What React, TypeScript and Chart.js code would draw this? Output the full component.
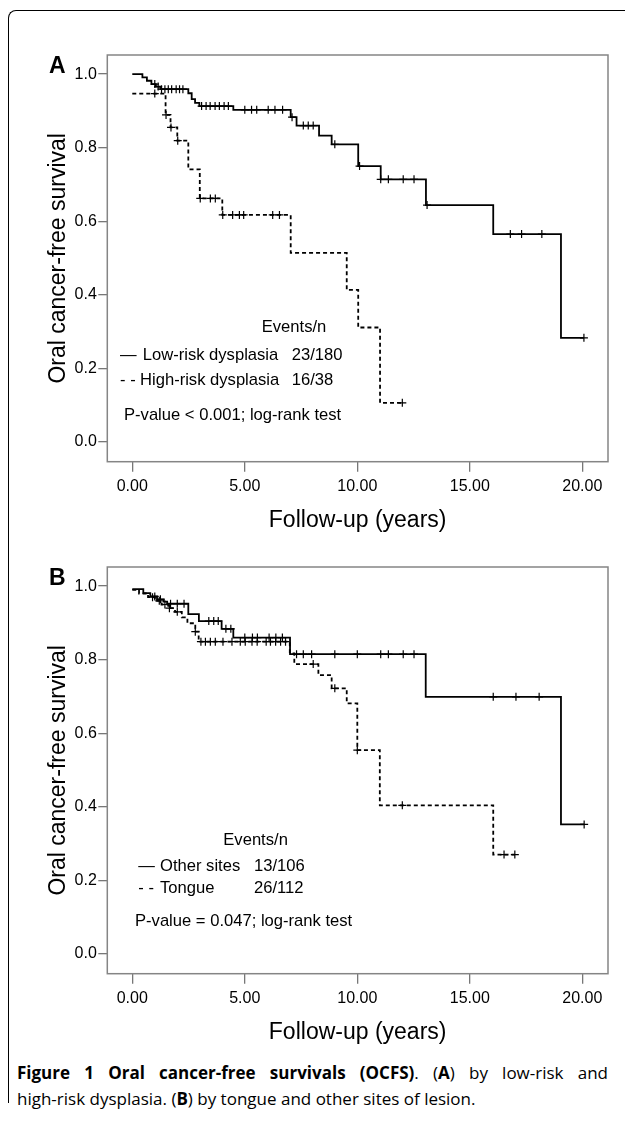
import React, { useEffect, useRef } from 'react';
import { Chart, registerables } from 'chart.js';

Chart.register(...registerables);

const FONT = 'Liberation Sans, Arial, Helvetica, sans-serif';

const X_TICKS = [0, 5, 10, 15, 20];
const Y_TICKS = [0, 0.2, 0.4, 0.6, 0.8, 1.0];
const X_TITLE = 'Follow-up (years)';
const Y_TITLE = 'Oral cancer-free survival';

// ---------- Panel A ----------
const lowRiskTimes = [0, 0.45, 0.65, 0.85, 1.05, 1.25, 2.49, 2.64, 2.79, 2.98, 4.49, 7.04, 7.3, 8.3, 8.86, 10.04, 11.04, 13.05, 16.04, 19.05, 20.07];
const lowRiskSurv = [1.0, 0.991, 0.982, 0.973, 0.966, 0.959, 0.948, 0.932, 0.922, 0.913, 0.903, 0.883, 0.86, 0.833, 0.809, 0.75, 0.714, 0.644, 0.565, 0.283, 0.283];
const lowRiskCensor = [1.0, 1.15, 1.3, 1.45, 1.6, 1.75, 1.95, 2.1, 2.25, 3.08, 3.28, 3.46, 3.68, 3.87, 4.08, 4.27, 5.0, 5.3, 5.53, 6.04, 6.34, 6.68, 7.1, 7.6, 7.82, 8.04, 9.0, 10.1, 11.04, 11.38, 12.04, 12.52, 13.1, 16.8, 17.3, 18.2, 20.07];

const highRiskTimes = [0, 1.48, 1.7, 2.0, 2.49, 3.0, 4.0, 7.04, 9.53, 10.04, 11.01, 12.0];
const highRiskSurv = [0.947, 0.889, 0.855, 0.819, 0.741, 0.662, 0.617, 0.514, 0.413, 0.311, 0.106, 0.106];
const highRiskCensor = [1.0, 1.5, 1.72, 2.02, 3.02, 3.47, 3.69, 4.02, 4.46, 4.76, 4.95, 6.24, 6.54, 12.0];

// ---------- Panel B ----------
const otherTimes = [0, 0.49, 0.8, 1.1, 1.4, 1.55, 2.49, 2.96, 3.97, 4.49, 7.01, 13.04, 19.05, 20.08];
const otherSurv = [0.992, 0.981, 0.972, 0.964, 0.958, 0.952, 0.924, 0.905, 0.884, 0.86, 0.815, 0.699, 0.352, 0.352];
const otherCensor = [1.0, 1.25, 1.7, 2.0, 2.3, 3.4, 3.62, 3.82, 4.16, 4.38, 5.0, 5.34, 5.56, 6.08, 6.38, 6.67, 7.3, 7.6, 7.97, 9.0, 10.0, 11.04, 11.38, 12.04, 12.52, 16.04, 17.05, 18.08, 20.08];

const tongueTimes = [0, 0.3, 0.7, 1.0, 1.3, 1.6, 1.9, 2.2, 2.45, 2.8, 2.95, 7.0, 7.2, 8.27, 8.86, 9.53, 10.0, 11.0, 16.04, 17.0];
const tongueSurv = [0.99, 0.98, 0.97, 0.96, 0.95, 0.94, 0.93, 0.915, 0.899, 0.876, 0.849, 0.817, 0.788, 0.758, 0.722, 0.681, 0.554, 0.404, 0.27, 0.27];
const tongueCensor = [0.9, 1.2, 1.45, 1.65, 2.0, 2.8, 3.05, 3.25, 3.47, 3.69, 4.03, 4.43, 4.8, 5.02, 5.32, 5.55, 5.95, 6.14, 6.37, 6.59, 6.81, 8.04, 9.0, 10.0, 12.0, 16.52, 17.0];

// legend texts: [text, dx, dy] relative to the plot frame's top-left
const legendA: [string, number, number][] = [
  ['Events/n', 154.4, 272.7],
  ['\u2014', 12.7, 300],
  ['Low-risk dysplasia', 35.4, 300],
  ['23/180', 184.4, 300],
  ['- -', 12.7, 325],
  ['High-risk dysplasia', 32.7, 325],
  ['16/38', 184.4, 325],
  ['P-value < 0.001; log-rank test', 16.7, 360],
];
const legendB: [string, number, number][] = [
  ['Events/n', 116, 273],
  ['\u2014', 31, 299],
  ['Other sites', 52.7, 299],
  ['13/106', 146.7, 299],
  ['- -', 31, 321.3],
  ['Tongue', 52.7, 321.3],
  ['26/112', 146.7, 321.3],
  ['P-value = 0.047; log-rank test', 27.7, 354],
];

function survAt(times: number[], surv: number[], t: number) {
  let s = surv[0];
  for (let i = 0; i < times.length; i++) if (times[i] <= t) s = surv[i];
  return s;
}

type PanelProps = {
  top: number;
  letter: string;
  solidT: number[]; solidS: number[]; solidC: number[];
  dashT: number[]; dashS: number[]; dashC: number[];
  legend: [string, number, number][];
};

const W = 625;
const H = 500;

function Panel(p: PanelProps) {
  const ref = useRef<HTMLCanvasElement | null>(null);
  useEffect(() => {
    if (!ref.current) return;
    const line = (t: number[], s: number[]) => t.map((x, i) => ({ x, y: s[i] }));
    const cens = (t: number[], s: number[], c: number[]) => c.map((x) => ({ x, y: survAt(t, s, x) }));
    const overlay = {
      id: 'overlay',
      afterDraw(chart: any) {
        const { ctx, chartArea } = chart;
        ctx.save();
        ctx.strokeStyle = '#858585';
        ctx.lineWidth = 1.5;
        ctx.strokeRect(chartArea.left, chartArea.top, chartArea.right - chartArea.left, chartArea.bottom - chartArea.top);
        ctx.fillStyle = '#000';
        ctx.font = `16.6px ${FONT}`;
        ctx.textBaseline = 'middle';
        ctx.textAlign = 'left';
        for (const [txt, dx, dy] of p.legend) ctx.fillText(txt, chartArea.left + dx, chartArea.top + dy);
        ctx.font = `bold 23px ${FONT}`;
        ctx.textBaseline = 'alphabetic';
        ctx.fillText(p.letter, 49, chartArea.top + 18);
        ctx.restore();
      },
    };
    const chart = new Chart(ref.current, {
      type: 'line',
      data: {
        datasets: [
          { data: line(p.solidT, p.solidS), borderColor: '#000', borderWidth: 1.8, stepped: 'before', pointRadius: 0, fill: false } as any,
          { data: line(p.dashT, p.dashS), borderColor: '#000', borderWidth: 1.8, borderDash: [4, 3], stepped: 'before', pointRadius: 0, fill: false } as any,
          { data: cens(p.solidT, p.solidS, p.solidC), showLine: false, pointStyle: 'cross', pointRadius: 4, borderColor: '#000', borderWidth: 1.2, pointHoverRadius: 4 } as any,
          { data: cens(p.dashT, p.dashS, p.dashC), showLine: false, pointStyle: 'cross', pointRadius: 4, borderColor: '#000', borderWidth: 1.2, pointHoverRadius: 4 } as any,
        ],
      },
      options: {
        responsive: false,
        animation: false,
        devicePixelRatio: window.devicePixelRatio || 1,
        layout: { padding: { top: 15, right: 17, left: 0, bottom: 0 } },
        plugins: { legend: { display: false }, tooltip: { enabled: false } },
        events: [],
        scales: {
          x: {
            type: 'linear',
            min: -1.11,
            max: 21.14,
            afterBuildTicks: (s: any) => { s.ticks = X_TICKS.map((v) => ({ value: v })); },
            afterFit: (s: any) => { s.height = 78.3; },
            grid: { drawOnChartArea: false, drawTicks: true, tickLength: 10, color: '#777', lineWidth: 1.3 },
            border: { display: false },
            ticks: { autoSkip: false, maxRotation: 0, padding: 5, color: '#000', font: { family: FONT, size: 16 }, callback: (v: any) => Number(v).toFixed(2) },
            title: { display: true, text: X_TITLE, color: '#000', font: { family: FONT, size: 23 }, padding: { top: 0, bottom: 6 } },
          },
          y: {
            type: 'linear',
            min: -0.054,
            max: 1.052,
            afterBuildTicks: (s: any) => { s.ticks = Y_TICKS.map((v) => ({ value: v })); },
            afterFit: (s: any) => { s.width = 107.3; },
            grid: { drawOnChartArea: false, drawTicks: true, tickLength: 9, color: '#777', lineWidth: 1.3 },
            border: { display: false },
            ticks: { autoSkip: false, padding: 1.5, color: '#000', font: { family: FONT, size: 16 }, callback: (v: any) => Number(v).toFixed(1) },
            title: { display: true, text: Y_TITLE, color: '#000', font: { family: FONT, size: 23 }, padding: { top: 44.5, bottom: 0 } },
          },
        },
      } as any,
      plugins: [overlay],
    });
    return () => chart.destroy();
  }, []);
  return (
    <canvas
      ref={ref}
      width={W}
      height={H}
      style={{ position: 'absolute', left: 0, top: p.top, width: W, height: H }}
    />
  );
}

export default function App() {
  return (
    <div>
      <div
        style={{
          position: 'absolute', left: 8, top: 10, width: 617, height: 1093,
          borderTop: '1px solid #000', borderLeft: '1px solid #000', borderTopLeftRadius: 8,
          boxSizing: 'border-box',
        }}
      />
      <Panel top={40} letter="A" solidT={lowRiskTimes} solidS={lowRiskSurv} solidC={lowRiskCensor}
        dashT={highRiskTimes} dashS={highRiskSurv} dashC={highRiskCensor} legend={legendA} />
      <Panel top={552} letter="B" solidT={otherTimes} solidS={otherSurv} solidC={otherCensor}
        dashT={tongueTimes} dashS={tongueSurv} dashC={tongueCensor} legend={legendB} />
      <div style={{ position: 'absolute', left: 17, top: 1060, width: 591, fontFamily: '"Open Sans", sans-serif', fontSize: 17, lineHeight: '26px', color: '#000' }}>
        <div style={{ textAlign: 'justify', textAlignLast: 'justify' as any, whiteSpace: 'nowrap' }}>
          <b>Figure 1 Oral cancer-free survivals (OCFS)</b>. (<b>A</b>) by low-risk and
        </div>
        <div>high-risk dysplasia. (<b>B</b>) by tongue and other sites of lesion.</div>
      </div>
    </div>
  );
}
